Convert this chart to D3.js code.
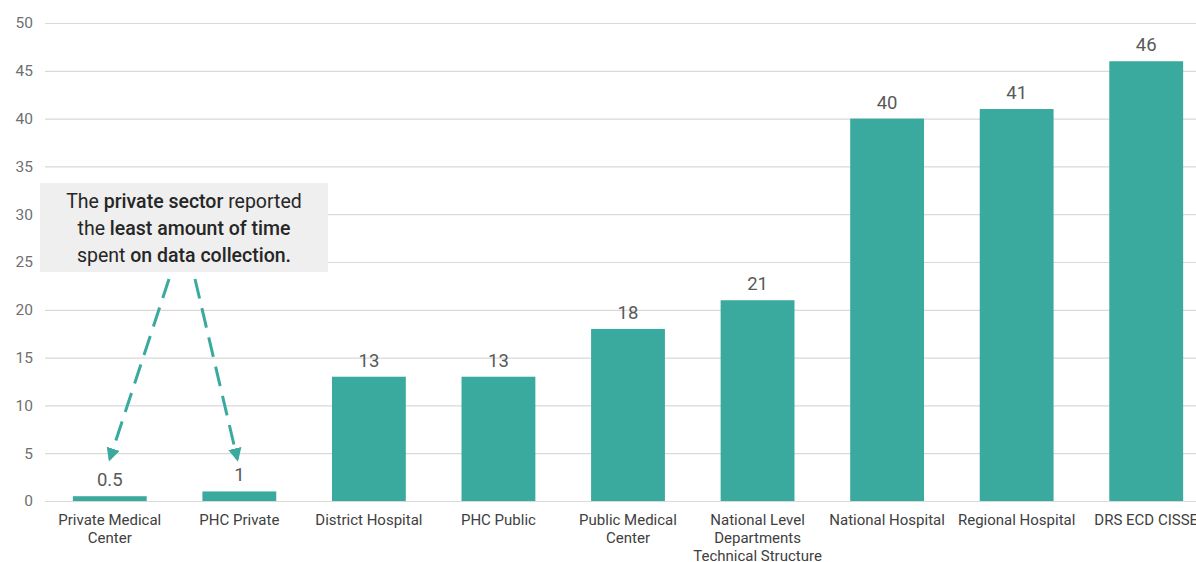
<!DOCTYPE html>
<html>
<head>
<meta charset="utf-8">
<script src="https://cdn.jsdelivr.net/npm/d3@7"></script>
<style>
  html, body { margin: 0; padding: 0; background: #fff; }
  svg { display: block; }
  text { font-family: "Roboto", "Liberation Sans", sans-serif; }
</style>
</head>
<body>
<svg id="chart" width="1196" height="562"></svg>
<script>
// Reported time spent on data collection, by facility type
const categories = [
  "Private Medical Center",
  "PHC Private",
  "District Hospital",
  "PHC Public",
  "Public Medical Center",
  "National Level Departments Technical Structure",
  "National Hospital",
  "Regional Hospital",
  "DRS ECD CISSE"
];
const values = [0.5, 1, 13, 13, 18, 21, 40, 41, 46];
const categoryLines = [
  ["Private Medical", "Center"],
  ["PHC Private"],
  ["District Hospital"],
  ["PHC Public"],
  ["Public Medical", "Center"],
  ["National Level", "Departments", "Technical Structure"],
  ["National Hospital"],
  ["Regional Hospital"],
  ["DRS ECD CISSE"]
];
const yTicks = [0, 5, 10, 15, 20, 25, 30, 35, 40, 45, 50];
const valueLabels = ["0.5", "1", "13", "13", "18", "21", "40", "41", "46"];

const teal = "#3aaa9f";
const svg = d3.select("#chart");

const x = d3.scaleBand()
  .domain(categories)
  .range([45, 1211])
  .paddingInner(0.43)
  .paddingOuter(0.215);

const y = d3.scaleLinear().domain([0, 50]).range([501, 23]);

// Horizontal gridlines and y tick labels
const yAxis = svg.append("g")
  .attr("transform", "translate(45,0)")
  .call(d3.axisLeft(y).tickValues(yTicks).tickSize(-1200).tickPadding(12));
yAxis.select(".domain").remove();
yAxis.selectAll(".tick line").attr("stroke", "#d9d9d9").attr("stroke-width", 1.2);
yAxis.selectAll(".tick text")
  .attr("fill", "#6f6f6f")
  .style("font-size", "15.5px")
  .attr("x", -12);

// Bars
svg.append("g").selectAll("rect")
  .data(values)
  .join("rect")
  .attr("x", (d, i) => x(categories[i]))
  .attr("width", x.bandwidth())
  .attr("y", d => y(d))
  .attr("height", d => y(0) - y(d))
  .attr("fill", teal);

// Value labels above bars
svg.append("g").selectAll("text")
  .data(values)
  .join("text")
  .attr("x", (d, i) => x(categories[i]) + x.bandwidth() / 2)
  .attr("y", d => y(d) - 10)
  .attr("text-anchor", "middle")
  .attr("fill", "#595959")
  .style("font-size", "18.5px")
  .text((d, i) => valueLabels[i]);

// Category labels under the axis
const xLab = svg.append("g").selectAll("text")
  .data(categoryLines)
  .join("text")
  .attr("x", (d, i) => x(categories[i]) + x.bandwidth() / 2)
  .attr("y", 525)
  .attr("text-anchor", "middle")
  .attr("fill", "#404040")
  .style("font-size", "15px");
xLab.each(function(lines, i) {
  const t = d3.select(this);
  lines.forEach((ln, k) => {
    t.append("tspan")
      .attr("x", x(categories[i]) + x.bandwidth() / 2)
      .attr("dy", k === 0 ? 0 : 18)
      .text(ln);
  });
});

// Dashed callout arrows pointing at the private-sector bars
const defs = svg.append("defs");
defs.append("marker")
  .attr("id", "arrowhead")
  .attr("viewBox", "0 0 10 10")
  .attr("refX", 8).attr("refY", 5)
  .attr("markerWidth", 4.5).attr("markerHeight", 4.5)
  .attr("orient", "auto")
  .append("path")
  .attr("d", "M0,0 L10,5 L0,10 Z")
  .attr("fill", teal);

const arrowTargets = [0, 1];
const arrowStarts = [169, 195];
arrowTargets.forEach((ci, k) => {
  const cx = x(categories[ci]) + x.bandwidth() / 2;
  svg.append("line")
    .attr("x1", arrowStarts[k]).attr("y1", 279)
    .attr("x2", cx + (k === 0 ? 0 : -2)).attr("y2", 459)
    .attr("stroke", teal)
    .attr("stroke-width", 3)
    .attr("stroke-dasharray", "20,10")
    .attr("marker-end", "url(#arrowhead)");
});

// Callout box
svg.append("rect")
  .attr("x", 40).attr("y", 183)
  .attr("width", 288).attr("height", 89)
  .attr("fill", "#efefef");

const note = svg.append("text")
  .attr("text-anchor", "middle")
  .attr("fill", "#262626")
  .style("font-size", "19.5px");
const noteLines = [
  [["The ", 400], ["private sector", 500], [" reported", 400]],
  [["the ", 400], ["least amount of time", 500]],
  [["spent ", 400], ["on data collection.", 500]]
];
noteLines.forEach((parts, k) => {
  const line = note.append("tspan").attr("x", 184).attr("y", 208 + k * 27);
  parts.forEach(([s, w]) => line.append("tspan").attr("font-weight", w).text(s));
});
</script>
</body>
</html>
